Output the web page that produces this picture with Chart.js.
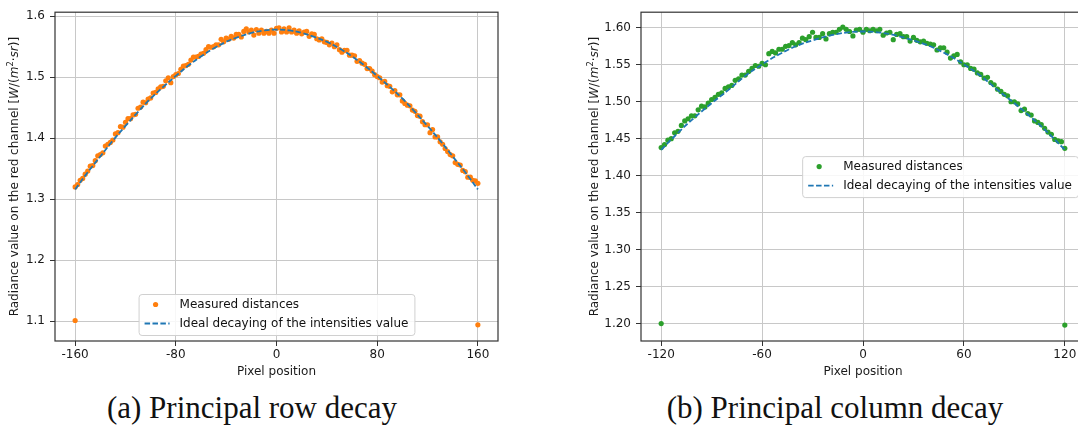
<!DOCTYPE html>
<html>
<head>
<meta charset="utf-8">
<script src="https://cdn.jsdelivr.net/npm/chart.js@4.4.1/dist/chart.umd.min.js"></script>
<style>
  html, body { margin: 0; padding: 0; background: #fff; width: 1078px; height: 430px; overflow: hidden; position: relative; }
  .panel { position: absolute; top: 0; height: 390px; }
  #rowPanel { left: 0; width: 540px; }
  #colPanel { left: 540px; width: 560px; }
  .caption { position: absolute; top: 392px; font-family: "Liberation Serif", serif; font-size: 31px; line-height: 1; color: #111; white-space: nowrap; transform: translateX(-50%); }
</style>
</head>
<body>
<div class="panel" id="rowPanel"><canvas id="rowChart"></canvas></div>
<div class="panel" id="colPanel"><canvas id="colChart"></canvas></div>
<div class="caption" style="left:252px">(a) Principal row decay</div>
<div class="caption" style="left:835px">(b) Principal column decay</div>
<script>
// principal row: measured radiance every 2 pixels
const rowPixels = [-160,-158,-156,-154,-152,-150,-148,-146,-144,-142,-140,-138,-136,-134,-132,-130,-128,-126,-124,-122,
  -120,-118,-116,-114,-112,-110,-108,-106,-104,-102,-100,-98,-96,-94,-92,-90,-88,-86,-84,-82,
  -80,-78,-76,-74,-72,-70,-68,-66,-64,-62,-60,-58,-56,-54,-52,-50,-48,-46,-44,-42,
  -40,-38,-36,-34,-32,-30,-28,-26,-24,-22,-20,-18,-16,-14,-12,-10,-8,-6,-4,-2,
  0,2,4,6,8,10,12,14,16,18,20,22,24,26,28,30,32,34,36,38,
  40,42,44,46,48,50,52,54,56,58,60,62,64,66,68,70,72,74,76,78,
  80,82,84,86,88,90,92,94,96,98,100,102,104,106,108,110,112,114,116,118,
  120,122,124,126,128,130,132,134,136,138,140,142,144,146,148,150,152,154,156,158,160];
const rowRadiance = [1.320,1.324,1.331,1.334,1.341,1.346,1.354,1.355,1.363,1.371,
  1.373,1.376,1.387,1.390,1.393,1.397,1.407,1.409,1.419,1.418,
  1.426,1.432,1.432,1.438,1.439,1.449,1.451,1.459,1.458,1.464,
  1.466,1.474,1.475,1.481,1.484,1.485,1.494,1.499,1.491,1.501,
  1.504,1.506,1.513,1.518,1.519,1.521,1.528,1.533,1.533,1.534,
  1.538,1.539,1.545,1.550,1.549,1.550,1.553,1.553,1.562,1.558,
  1.564,1.562,1.567,1.564,1.570,1.570,1.566,1.575,1.579,1.574,
  1.577,1.569,1.578,1.572,1.577,1.572,1.575,1.572,1.577,1.572,
  1.580,1.581,1.574,1.579,1.574,1.581,1.574,1.577,1.572,1.576,
  1.571,1.574,1.575,1.567,1.571,1.570,1.563,1.561,1.563,1.558,
  1.557,1.553,1.556,1.550,1.553,1.545,1.541,1.544,1.544,1.536,
  1.536,1.535,1.526,1.527,1.523,1.521,1.514,1.514,1.510,1.504,
  1.501,1.499,1.492,1.493,1.486,1.485,1.476,1.478,1.471,1.471,
  1.461,1.457,1.454,1.453,1.446,1.444,1.437,1.436,1.427,1.422,
  1.422,1.409,1.414,1.402,1.402,1.394,1.390,1.383,1.378,1.373,
  1.371,1.360,1.357,1.356,1.347,1.345,1.336,1.336,1.331,1.330,
  1.326];
const rowOutlierPixels = [-160, 160];
const rowOutlierRadiance = [1.101, 1.094];
const rowFitPixels = [-160,-150,-140,-130,-120,-110,-100,-90,-80,-70,-60,-50,-40,-30,-20,-10,0,
  10,20,30,40,50,60,70,80,90,100,110,120,130,140,150,160];
const rowFitRadiance = [1.316,1.344,1.370,1.396,1.420,1.443,1.465,1.484,1.502,1.519,1.534,1.547,1.558,1.566,1.5725,1.5766,1.578,
  1.5766,1.5725,1.566,1.558,1.547,1.534,1.519,1.502,1.484,1.465,1.443,1.420,1.396,1.370,1.344,1.316];
const rowXTicks = [-160, -80, 0, 80, 160];
const rowYTicks = [1.1, 1.2, 1.3, 1.4, 1.5, 1.6];

// principal column
const colPixels = [-120,-118,-116,-114,-112,-110,-108,-106,-104,-102,-100,-98,-96,-94,-92,-90,-88,-86,-84,-82,
  -80,-78,-76,-74,-72,-70,-68,-66,-64,-62,-60,-58,-56,-54,-52,-50,-48,-46,-44,-42,
  -40,-38,-36,-34,-32,-30,-28,-26,-24,-22,-20,-18,-16,-14,-12,-10,-8,-6,-4,-2,
  0,2,4,6,8,10,12,14,16,18,20,22,24,26,28,30,32,34,36,38,
  40,42,44,46,48,50,52,54,56,58,60,62,64,66,68,70,72,74,76,78,
  80,82,84,86,88,90,92,94,96,98,100,102,104,106,108,110,112,114,116,118,120];
const colRadiance = [1.438,1.442,1.448,1.450,1.458,1.460,1.468,1.474,1.477,1.481,
  1.481,1.489,1.494,1.493,1.498,1.503,1.506,1.510,1.512,1.518,
  1.520,1.522,1.529,1.531,1.536,1.536,1.541,1.545,1.549,1.548,
  1.552,1.550,1.565,1.568,1.566,1.571,1.571,1.575,1.576,1.580,
  1.577,1.580,1.586,1.584,1.588,1.594,1.587,1.587,1.592,1.585,
  1.592,1.594,1.594,1.598,1.601,1.598,1.595,1.589,1.597,1.598,
  1.594,1.598,1.596,1.598,1.596,1.598,1.590,1.593,1.594,1.584,
  1.591,1.592,1.588,1.588,1.582,1.587,1.583,1.581,1.582,1.579,
  1.578,1.577,1.570,1.573,1.573,1.567,1.559,1.562,1.564,1.554,
  1.550,1.550,1.545,1.544,1.539,1.537,1.532,1.533,1.526,1.523,
  1.517,1.514,1.510,1.508,1.500,1.500,1.497,1.488,1.490,1.484,
  1.482,1.474,1.472,1.469,1.464,1.459,1.456,1.449,1.447,1.446,
  1.437];
const colOutlierPixels = [-120, 120];
const colOutlierRadiance = [1.200, 1.198];
const colFitPixels = [-120,-110,-100,-90,-80,-70,-60,-50,-40,-30,-20,-10,0,10,20,30,40,50,60,70,80,90,100,110,120];
const colFitRadiance = [1.435,1.458,1.479,1.498,1.516,1.535,1.5505,1.564,1.575,1.583,1.5894,1.5936,1.595,
  1.5936,1.5894,1.583,1.575,1.564,1.5505,1.535,1.516,1.498,1.479,1.458,1.435];
const colXTicks = [-120, -60, 0, 60, 120];
const colYTicks = [1.20, 1.25, 1.30, 1.35, 1.40, 1.45, 1.50, 1.55, 1.60];

const measuredLabel = 'Measured distances';
const fitLabel = 'Ideal decaying of the intensities value';
const xTitle = 'Pixel position';
// y title pieces: [text, italic?, superscript?]
const yTitleParts = [
  ['Radiance value on the red channel [', false, false],
  ['W', true, false], ['/(', false, false], ['m', true, false], ['2', false, true],
  ['\u00b7', false, false], ['sr', true, false], [')]', false, false]
];

const FONT = '"DejaVu Sans"';
const BLUE = '#1f77b4';
const DOT = 2.6;

function pts(xs, ys) { return xs.map((x, i) => ({ x: x, y: ys[i] })); }

function drawYTitle(ctx, x, cy) {
  const fontOf = p => (p[1] ? 'italic ' : '') + (p[2] ? '8.5px ' : '12px ') + FONT;
  let total = 0;
  yTitleParts.forEach(p => { ctx.font = fontOf(p); total += ctx.measureText(p[0]).width; });
  ctx.save();
  ctx.translate(x, cy);
  ctx.rotate(-Math.PI / 2);
  ctx.textAlign = 'left';
  ctx.textBaseline = 'middle';
  let pos = -total / 2;
  yTitleParts.forEach(p => {
    ctx.font = fontOf(p);
    ctx.fillText(p[0], pos, p[2] ? -4 : 0);
    pos += ctx.measureText(p[0]).width;
  });
  ctx.restore();
}

function drawLegend(ctx, chart, o) {
  const a = chart.chartArea;
  const dotColor = chart.data.datasets[0].backgroundColor;
  ctx.font = '12px ' + FONT;
  const w = 41 + ctx.measureText(fitLabel).width + 6;
  const h = 41;
  let x, y;
  if (o.legendLoc === 'lower center') {
    x = (a.left + a.right) / 2 - w / 2;
    y = a.bottom - 6 - h;
  } else {
    x = a.right - 7 - w;
    y = (a.top + a.bottom) / 2 - h / 2;
  }
  ctx.beginPath();
  ctx.roundRect(x + 0.5, y + 0.5, w, h, 3);
  ctx.fillStyle = 'rgba(255,255,255,0.85)';
  ctx.fill();
  ctx.strokeStyle = '#d0d0d0';
  ctx.lineWidth = 1;
  ctx.stroke();

  ctx.fillStyle = dotColor;
  ctx.beginPath();
  ctx.arc(x + 17, y + 10.5, DOT, 0, Math.PI * 2);
  ctx.fill();

  ctx.strokeStyle = BLUE;
  ctx.lineWidth = 1.8;
  ctx.setLineDash([5.5, 2.4]);
  ctx.beginPath();
  ctx.moveTo(x + 6, y + 29.5);
  ctx.lineTo(x + 31, y + 29.5);
  ctx.stroke();
  ctx.setLineDash([]);

  ctx.fillStyle = '#111';
  ctx.textAlign = 'left';
  ctx.textBaseline = 'middle';
  ctx.fillText(measuredLabel, x + 41, y + 10.5);
  ctx.fillText(fitLabel, x + 41, y + 29.5);
}

const decor = {
  id: 'decor',
  afterDraw(chart, args, opts) {
    const ctx = chart.ctx;
    const a = chart.chartArea;
    ctx.save();
    ctx.strokeStyle = '#333';
    ctx.lineWidth = 1.2;
    ctx.strokeRect(a.left, a.top, a.right - a.left, a.bottom - a.top);
    ctx.fillStyle = '#1a1a1a';
    ctx.font = '12px ' + FONT;
    ctx.textAlign = 'center';
    ctx.textBaseline = 'middle';
    ctx.fillText(xTitle, (a.left + a.right) / 2, a.bottom + 31);
    drawYTitle(ctx, a.left - opts.yTitleGap, (a.top + a.bottom) / 2);
    drawLegend(ctx, chart, opts);
    ctx.restore();
  }
};

function makeChart(id, cfg) {
  const gridStyle = { color: '#c8c8c8', lineWidth: 1, tickColor: '#333', tickLength: 5, drawTicks: true };
  const tickFont = { family: 'DejaVu Sans', size: 12 };
  return new Chart(document.getElementById(id), {
    type: 'scatter',
    data: {
      datasets: [
        {
          label: measuredLabel,
          data: pts(cfg.px, cfg.val).concat(pts(cfg.outX, cfg.outY)),
          backgroundColor: cfg.color,
          borderWidth: 0,
          pointRadius: DOT,
          order: 2
        },
        {
          label: fitLabel,
          data: pts(cfg.fitX, cfg.fitY),
          showLine: true,
          borderColor: BLUE,
          borderWidth: 1.8,
          borderDash: [5.5, 2.4],
          pointRadius: 0,
          tension: 0.4,
          order: 1
        }
      ]
    },
    options: {
      responsive: true,
      maintainAspectRatio: false,
      animation: false,
      events: [],
      layout: { padding: { top: 10, right: cfg.padRight, bottom: 0, left: 0 } },
      scales: {
        x: {
          type: 'linear',
          min: cfg.xMin, max: cfg.xMax,
          afterBuildTicks: s => { s.ticks = cfg.xTicks.map(v => ({ value: v })); },
          afterFit: s => { s.height = 49; },
          grid: gridStyle,
          border: { display: false },
          ticks: { color: '#1a1a1a', font: tickFont, padding: 2, maxRotation: 0, callback: v => String(v) }
        },
        y: {
          type: 'linear',
          min: cfg.yMin, max: cfg.yMax,
          afterBuildTicks: s => { s.ticks = cfg.yTicks.map(v => ({ value: v })); },
          afterFit: s => { s.width = cfg.yWidth; },
          grid: gridStyle,
          border: { display: false },
          ticks: { color: '#1a1a1a', font: tickFont, padding: 5, callback: v => v.toFixed(cfg.yDigits) }
        }
      },
      plugins: {
        legend: { display: false },
        tooltip: { enabled: false },
        decor: { yTitleGap: cfg.yTitleGap, legendLoc: cfg.legendLoc }
      }
    },
    plugins: [decor]
  });
}

makeChart('rowChart', {
  px: rowPixels, val: rowRadiance, outX: rowOutlierPixels, outY: rowOutlierRadiance,
  fitX: rowFitPixels, fitY: rowFitRadiance, color: '#ff7f0e',
  xMin: -176, xMax: 176, yMin: 1.0674, yMax: 1.6065,
  xTicks: rowXTicks, yTicks: rowYTicks, yDigits: 1,
  yWidth: 55, padRight: 42, yTitleGap: 40, legendLoc: 'lower center'
});

makeChart('colChart', {
  px: colPixels, val: colRadiance, outX: colOutlierPixels, outY: colOutlierRadiance,
  fitX: colFitPixels, fitY: colFitRadiance, color: '#2ca02c',
  xMin: -132, xMax: 132, yMin: 1.1764, yMax: 1.6211,
  xTicks: colXTicks, yTicks: colYTicks, yDigits: 2,
  yWidth: 101, padRight: 15, yTitleGap: 46, legendLoc: 'center right'
});
</script>
</body>
</html>
